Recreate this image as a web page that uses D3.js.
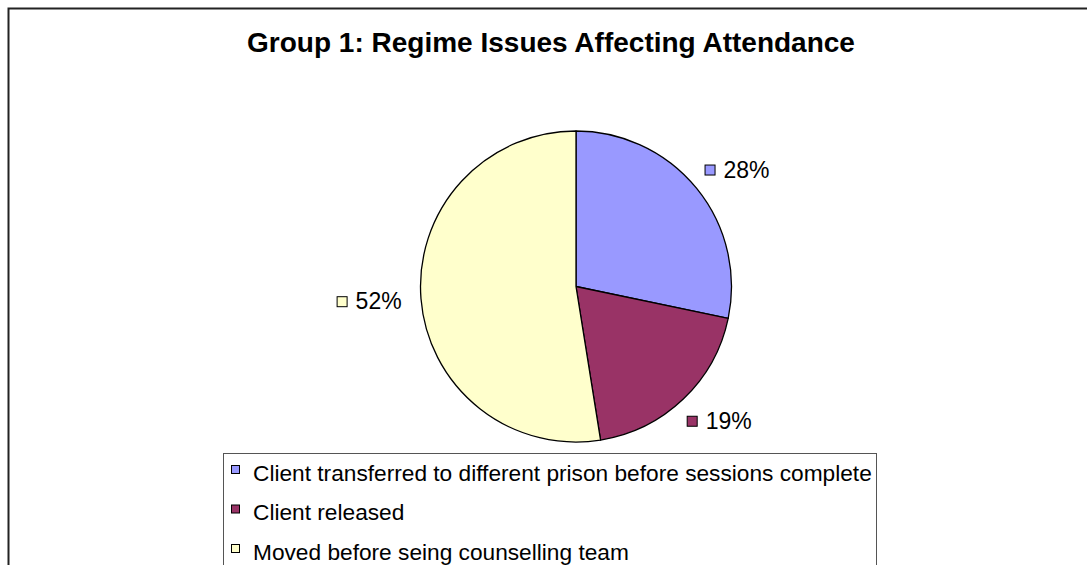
<!DOCTYPE html>
<html>
<head>
<meta charset="utf-8">
<script src="https://cdn.jsdelivr.net/npm/d3@7/dist/d3.min.js"></script>
<style>
  html, body { margin: 0; padding: 0; background: #fff; }
  svg { display: block; font-family: "Liberation Sans", Arial, Helvetica, sans-serif; }
</style>
</head>
<body>
<svg id="chart" width="1087" height="565"></svg>
<script>
const title = "Group 1: Regime Issues Affecting Attendance";
const categories = [
  "Client transferred to different prison before sessions complete",
  "Client released",
  "Moved before seing counselling team"
];
const values = [28, 19, 52];
const labels = ["28%", "19%", "52%"];
const colors = ["#9999FF", "#993366", "#FFFFCC"];

const svg = d3.select("#chart");

// outer chart frame (clipped at right/bottom like the reference)
svg.append("rect")
  .attr("x", 8.5).attr("y", 8.5)
  .attr("width", 1200).attr("height", 700)
  .attr("fill", "#fff").attr("stroke", "#222").attr("stroke-width", 2);

// title
svg.append("text")
  .attr("x", 551).attr("y", 52)
  .attr("text-anchor", "middle")
  .attr("font-weight", "bold")
  .attr("font-size", 28)
  .attr("fill", "#000")
  .text(title);

// pie
const cx = 576, cy = 286.5, R = 155.5, labelR = 175;
const pie = d3.pie().sort(null).value(d => d)(values);
const arc = d3.arc().innerRadius(0).outerRadius(R);

const g = svg.append("g").attr("transform", `translate(${cx},${cy})`);
g.selectAll("path.slice").data(pie).enter().append("path")
  .attr("class", "slice")
  .attr("d", arc)
  .attr("fill", (d, i) => colors[i])
  .attr("stroke", "#000")
  .attr("stroke-width", 1.3)
  .attr("stroke-linejoin", "round");

// data labels: swatch + percentage, box aligned outward from the pie
const labFont = 23, sw = 10, gap = 9, boxH = 21;
const lab = g.selectAll("g.lab").data(pie).enter().append("g").attr("class", "lab");
lab.each(function(d, i) {
  const sel = d3.select(this);
  const a = (d.startAngle + d.endAngle) / 2;
  const s = Math.sin(a), c = Math.cos(a);
  const ax = labelR * s, ay = -labelR * c;
  const t = sel.append("text")
    .attr("font-size", labFont)
    .attr("fill", "#000")
    .text(labels[i]);
  const tw = t.node().getComputedTextLength();
  const total = sw + gap + tw;
  const left = ax - (1 - s) / 2 * total;
  const top = ay - (1 + c) / 2 * boxH;
  const midY = top + boxH / 2;
  sel.append("rect")
    .attr("x", left + 0.5).attr("y", midY - sw / 2 + 0.5)
    .attr("width", sw).attr("height", sw)
    .attr("fill", colors[i]).attr("stroke", "#000").attr("stroke-width", 1);
  t.attr("x", left + sw + gap).attr("y", midY + labFont * 0.716 / 2);
});

// legend
const legX = 223.5, legY = 453.5, legW = 653, rowH = 39.5, firstRow = 469.5, legFont = 22.7;
svg.append("rect")
  .attr("x", legX).attr("y", legY)
  .attr("width", legW).attr("height", 200)
  .attr("fill", "#fff").attr("stroke", "#555").attr("stroke-width", 1);

const rows = svg.selectAll("g.leg").data(categories).enter().append("g")
  .attr("class", "leg")
  .attr("transform", (d, i) => `translate(0,${firstRow + i * rowH})`);
rows.append("rect")
  .attr("x", 231.5).attr("y", -4)
  .attr("width", 8).attr("height", 8)
  .attr("fill", (d, i) => colors[i]).attr("stroke", "#000").attr("stroke-width", 1);
rows.append("text")
  .attr("x", 253).attr("y", 3 + legFont * 0.716 / 2)
  .attr("font-size", legFont)
  .attr("fill", "#000")
  .text(d => d);
</script>
</body>
</html>
